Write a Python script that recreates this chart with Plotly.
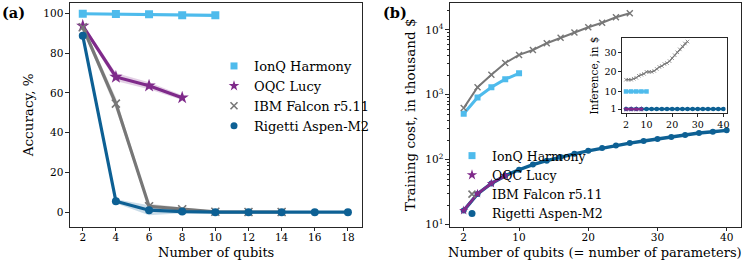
import plotly.graph_objects as go

# ---------------- data: panel (a) accuracy ----------------
acc_q_ionq = [2, 4, 6, 8, 10]
acc_ionq = [99.8, 99.7, 99.5, 99.1, 99.0]
acc_ionq_sd = [0.4, 0.4, 0.4, 0.5, 0.5]

acc_q_oqc = [2, 4, 6, 8]
acc_oqc = [93.7, 68.0, 63.6, 57.6]
acc_oqc_sd = [1.2, 2.0, 1.8, 1.2]

acc_q_ibm = [2, 4, 6, 8, 10, 12, 14]
acc_ibm = [93.0, 54.6, 3.0, 1.5, 0.2, 0.1, 0.1]
acc_ibm_sd = [1.5, 3.0, 1.2, 0.8, 0.4, 0.3, 0.3]

acc_q_rig = [2, 4, 6, 8, 10, 12, 14, 16, 18]
acc_rig = [88.7, 5.5, 1.0, 0.3, 0.0, 0.0, 0.0, 0.0, 0.0]
acc_rig_sd = [1.0, 1.0, 2.5, 0.8, 0.3, 0.3, 0.2, 0.2, 0.2]

# ---------------- data: panel (b) training cost (thousand $) ----------------
cost_q_ionq = [2, 4, 6, 8, 10]
cost_ionq = [510, 910, 1310, 1740, 2140]

cost_q_oqc = [2, 4, 6, 8]
cost_oqc = [16.5, 30, 43, 57]

cost_q_ibm = [2, 4, 6, 8, 10, 12, 14, 16, 18, 20, 22, 24, 26]
cost_ibm = [624, 1310, 2040, 3090, 4120, 4900, 6240, 7590, 9100, 11000, 12900, 15700, 18100]

cost_q_rig = [2, 4, 6, 8, 10, 12, 14, 16, 18, 20, 22, 24, 26, 28, 30, 32, 34, 36, 38, 40]
cost_rig = [16.4, 29.7, 43, 56.7, 70, 84, 96.5, 110, 123, 137, 151, 166, 180, 194,
            209, 224, 240, 258, 270, 283]

# ---------------- data: inset inference cost ($) ----------------
inf_q_ionq = [2, 4, 6, 8, 10]
inf_ionq = [10, 10, 10, 10, 10]

inf_q_oqc = [2, 4, 6, 8]
inf_oqc = [1, 1, 1, 1]

inf_q_ibm = [2, 3, 4, 5, 6, 7, 8, 9, 10, 11, 12, 13, 14, 15, 16, 17, 18, 19, 20,
             21, 22, 23, 24, 25, 26]
inf_ibm = [16, 16, 16, 16.5, 17, 18, 18.5, 19, 20, 20, 20, 20.5, 21.5, 22.5, 23,
           24, 24.5, 25.5, 27, 28.5, 30, 31.5, 33, 34.5, 35.5]

inf_q_rig = [2, 4, 6, 8, 10, 12, 14, 16, 18, 20, 22, 24, 26, 28, 30, 32, 34, 36, 38, 40]
inf_rig = [1, 1, 1, 1, 1, 1, 1, 1, 1, 1, 1, 1, 1, 1, 1, 1, 1, 1, 1, 1]

names = ["IonQ Harmony", "OQC Lucy", "IBM Falcon r5.11", "Rigetti Aspen-M2"]
colors = ["#4EBBEC", "#7F2A8A", "#777777", "#0D6094"]
bands = ["rgba(78,187,236,0.25)", "rgba(127,42,138,0.22)", "rgba(119,119,119,0.25)",
         "rgba(13,96,148,0.22)"]
symbols = ["square", "star", "x-thin", "circle"]
leg_sizes = [7, 8, 7, 7]

FONT = "DejaVu Serif"
W, H = 747, 265

fig = go.Figure()

acc_sets = [(acc_q_ionq, acc_ionq, acc_ionq_sd), (acc_q_oqc, acc_oqc, acc_oqc_sd),
            (acc_q_ibm, acc_ibm, acc_ibm_sd), (acc_q_rig, acc_rig, acc_rig_sd)]

for i, (qx, qy, sd) in enumerate(acc_sets):
    up = [a + b for a, b in zip(qy, sd)]
    lo = [a - b for a, b in zip(qy, sd)]
    fig.add_trace(go.Scatter(x=qx + qx[::-1], y=up + lo[::-1], fill="toself",
                             fillcolor=bands[i], line=dict(width=0), mode="lines",
                             hoverinfo="skip", showlegend=False, xaxis="x", yaxis="y"))
for i, (qx, qy, sd) in enumerate(acc_sets):
    sym = symbols[i]
    mline = dict(width=1.6, color=colors[i]) if sym == "x-thin" else dict(width=0)
    fig.add_trace(go.Scatter(x=qx, y=qy, mode="lines+markers",
                             line=dict(color=colors[i], width=3.2),
                             marker=dict(symbol=sym, size=8 if sym != "star" else 10,
                                         color=colors[i], line=mline),
                             showlegend=False, xaxis="x", yaxis="y"))
    fig.add_trace(go.Scatter(x=[None], y=[None], mode="markers", name=names[i],
                             marker=dict(symbol=sym, size=leg_sizes[i],
                                         color=colors[i], line=mline),
                             legend="legend", xaxis="x", yaxis="y"))

# panel (b)
cost_sets = [(cost_q_ionq, cost_ionq, 3.0), (cost_q_ibm, cost_ibm, 2.0),
             (cost_q_rig, cost_rig, 3.4), (cost_q_oqc, cost_oqc, 2.6)]
cost_idx = [0, 2, 3, 1]
for (qx, qy, lw), i in zip(cost_sets, cost_idx):
    sym = symbols[i]
    mline = dict(width=1.4, color=colors[i]) if sym == "x-thin" else dict(width=0)
    fig.add_trace(go.Scatter(x=qx, y=qy, mode="lines+markers",
                             line=dict(color=colors[i], width=lw),
                             marker=dict(symbol=sym, size=6 if sym != "star" else 7,
                                         color=colors[i], line=mline),
                             showlegend=False, xaxis="x2", yaxis="y2"))
for i in range(4):
    sym = symbols[i]
    mline = dict(width=1.6, color=colors[i]) if sym == "x-thin" else dict(width=0)
    fig.add_trace(go.Scatter(x=[None], y=[None], mode="markers", name=names[i],
                             marker=dict(symbol=sym, size=leg_sizes[i],
                                         color=colors[i], line=mline),
                             legend="legend2", xaxis="x2", yaxis="y2"))

# inset
inf_sets = [(inf_q_ibm, inf_ibm, 1.2, 2), (inf_q_ionq, inf_ionq, 2.5, 0),
            (inf_q_rig, inf_rig, 2.5, 3), (inf_q_oqc, inf_oqc, 2.5, 1)]
for qx, qy, lw, i in inf_sets:
    sym = symbols[i]
    mline = dict(width=0.8, color=colors[i]) if sym == "x-thin" else dict(width=0)
    fig.add_trace(go.Scatter(x=qx, y=qy, mode="lines+markers",
                             line=dict(color=colors[i], width=lw),
                             marker=dict(symbol=sym, size=3.5 if i == 2 else 4.5,
                                         color=colors[i], line=mline),
                             showlegend=False, xaxis="x3", yaxis="y3"))

def px_x(p):
    return p / W

def px_y(p):
    return 1 - p / H

axis_common = dict(showline=True, linecolor="#262626", linewidth=1.1, mirror=True,
                   ticks="outside", ticklen=3.5, tickwidth=1, tickcolor="#262626",
                   showgrid=False, zeroline=False, automargin=False,
                   tickfont=dict(family=FONT, size=10.5, color="black"))
inset_common = {**axis_common, "tickfont": dict(family=FONT, size=9.5, color="black"),
                "ticklen": 2.5}

BOTTOM = 226.5

fig.update_layout(
    width=W, height=H,
    margin=dict(l=0, r=0, t=0, b=0, autoexpand=False),
    paper_bgcolor="white", plot_bgcolor="white",
    font=dict(family=FONT, color="black"),
    xaxis=dict(domain=[px_x(70), px_x(362)], range=[1.23, 18.85],
               tickvals=[2, 4, 6, 8, 10, 12, 14, 16, 18], ticklabelstandoff=-3,
               anchor="y", **axis_common),
    yaxis=dict(domain=[px_y(BOTTOM), px_y(3)], range=[-7.2, 105.2],
               tickvals=[0, 20, 40, 60, 80, 100],
               title=dict(text="Accuracy, %", font=dict(size=13.5), standoff=6),
               anchor="x", **axis_common),
    xaxis2=dict(domain=[px_x(450), px_x(741)], range=[0.02, 42.07],
                tickvals=[2, 10, 20, 30, 40], ticklabelstandoff=-3,
                anchor="y2", **axis_common),
    yaxis2=dict(domain=[px_y(BOTTOM), px_y(3)], type="log", range=[0.97, 4.415],
                tickvals=[10, 100, 1000, 10000],
                ticktext=["10<sup>1</sup>", "10<sup>2</sup>", "10<sup>3</sup>", "10<sup>4</sup>"],
                minor=dict(ticks="outside", ticklen=2, tickcolor="#262626",
                           tickvals=[v * m for m in [10, 100, 1000] for v in range(2, 10)]
                           + [20000]),
                title=dict(text="Training cost, in thousand $", font=dict(size=13.5), standoff=6),
                anchor="x2", **axis_common),
    xaxis3=dict(domain=[px_x(622), px_x(727)], range=[0.44, 41.4],
                tickvals=[2, 10, 20, 30, 40], anchor="y3", **inset_common),
    yaxis3=dict(domain=[px_y(113), px_y(38)], range=[-1.0, 37.3],
                tickvals=[1, 10, 20, 30], anchor="x3",
                title=dict(text="Inference, in $", font=dict(size=10.5), standoff=3),
                **inset_common),
    legend=dict(x=px_x(214), y=px_y(51), xanchor="left", yanchor="top",
                bgcolor="rgba(0,0,0,0)", font=dict(family=FONT, size=13),
                tracegroupgap=0, itemwidth=30),
    legend2=dict(x=px_x(452), y=px_y(141), xanchor="left", yanchor="top",
                 bgcolor="rgba(0,0,0,0)", font=dict(family=FONT, size=12.5),
                 tracegroupgap=0, itemwidth=30),
    annotations=[
        dict(text="<b>(a)</b>", x=0, y=px_y(13), xref="paper", yref="paper",
             xanchor="left", yanchor="middle", showarrow=False,
             font=dict(family=FONT, size=14.5)),
        dict(text="<b>(b)</b>", x=px_x(381), y=px_y(13), xref="paper", yref="paper",
             xanchor="left", yanchor="middle", showarrow=False,
             font=dict(family=FONT, size=14.5)),
        dict(text="Number of qubits", x=px_x(216), y=px_y(252.5), xref="paper",
             yref="paper", xanchor="center", yanchor="middle", showarrow=False,
             font=dict(family=FONT, size=13)),
        dict(text="Number of qubits (= number of parameters)", x=px_x(595),
             y=px_y(252.5), xref="paper", yref="paper", xanchor="center",
             yanchor="middle", showarrow=False, font=dict(family=FONT, size=13)),
    ],
)

fig.write_html("out.html", config={"displayModeBar": False},
               post_script="document.body.style.margin='0px';"
                           "document.body.style.padding='0px';")
